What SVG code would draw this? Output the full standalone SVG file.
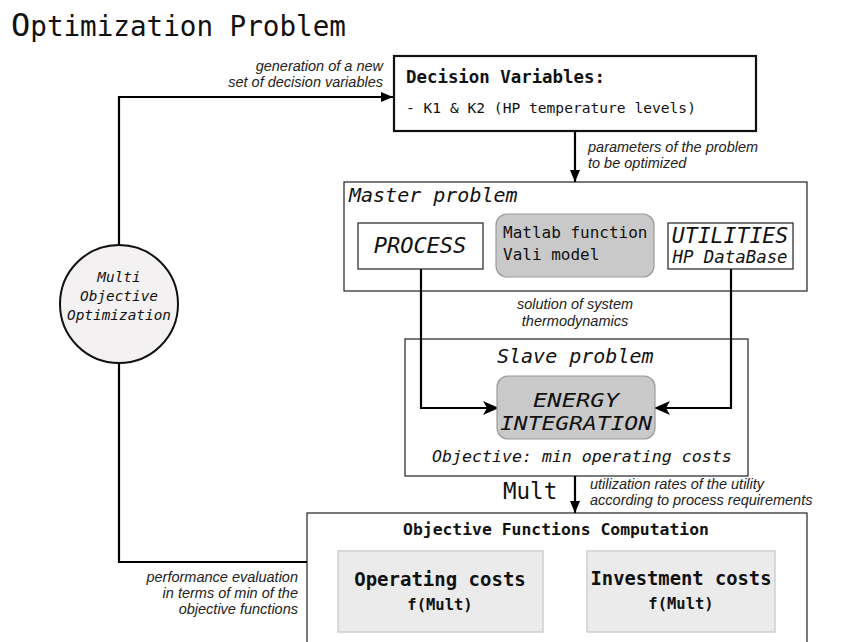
<svg xmlns="http://www.w3.org/2000/svg" width="850" height="642" viewBox="0 0 850 642">
  <style>
    .mono { font-family: "DejaVu Sans Mono", "Liberation Mono", monospace; fill: #111; }
    .it { font-style: italic; }
    .b { font-weight: bold; }
    .note { font-family: "Liberation Sans", Arial, sans-serif; font-style: italic; font-size: 14.5px; fill: #222; }
    .line { fill: none; stroke: #000; stroke-width: 2.2; }
    .frame { fill: #fff; stroke: #222; stroke-width: 1.2; }
    .box { fill: #fff; stroke: #222; stroke-width: 1.2; }
    .gray { fill: #c9c9c9; stroke: #9a9a9a; stroke-width: 1.2; }
    .light { fill: #ebebeb; stroke: #cfcfcf; stroke-width: 1.5; }
  </style>
  <defs>
    <marker id="arrow" viewBox="0 0 12 10" refX="12" refY="5" markerWidth="13" markerHeight="10" markerUnits="userSpaceOnUse" orient="auto">
      <path d="M0,0 L12,5 L0,10 Z" fill="#000"/>
    </marker>
    <marker id="arrowBig" viewBox="0 0 16 14" refX="16" refY="7" markerWidth="18" markerHeight="14" markerUnits="userSpaceOnUse" orient="auto">
      <path d="M0,0 L16,7 L0,14 L4,7 Z" fill="#000"/>
    </marker>
  </defs>

  <rect width="850" height="642" fill="#fff"/>

  <!-- title -->
  <text x="11" y="36" class="mono" font-size="27.6"><tspan font-size="32">O</tspan>ptimization Problem</text>

  <!-- containers -->
  <g id="master">
    <rect class="frame" x="344" y="182" width="463" height="109"/>
    <text x="349" y="202" class="mono it" font-size="20">Master problem</text>
  </g>
  <g id="slave">
    <rect class="frame" x="405" y="339" width="343" height="137"/>
    <text x="497" y="363" class="mono it" font-size="20">Slave problem</text>
    <text x="432" y="462" class="mono it" font-size="16.6">Objective: min operating costs</text>
  </g>
  <g id="objectives">
    <rect class="frame" x="307" y="513" width="500" height="140" stroke-width="1.6"/>
    <text x="556" y="535" class="mono b" font-size="16.4" text-anchor="middle">Objective Functions Computation</text>
  </g>

  <!-- connectors -->
  <g id="connectors">
    <polyline class="line" points="119,245 119,97 393,97" marker-end="url(#arrow)"/>
    <polyline class="line" points="119,364 119,562 307,562"/>
    <line class="line" x1="575" y1="131" x2="575" y2="182" marker-end="url(#arrow)"/>
    <polyline class="line" points="421,269 421,408 499,408" stroke-width="2.8" marker-end="url(#arrowBig)"/>
    <polyline class="line" points="731,269 731,408 654,408" stroke-width="2.8" marker-end="url(#arrowBig)"/>
    <line class="line" x1="575" y1="476" x2="575" y2="513" marker-end="url(#arrow)"/>
  </g>

  <!-- connector labels -->
  <g id="labels">
    <text class="note" x="383" y="71" text-anchor="end">generation of a new</text>
    <text class="note" x="383" y="87" text-anchor="end">set of decision variables</text>
    <text class="note" x="588" y="152">parameters of the problem</text>
    <text class="note" x="588" y="168">to be optimized</text>
    <text class="note" x="575" y="309" text-anchor="middle">solution of system</text>
    <text class="note" x="575" y="326" text-anchor="middle">thermodynamics</text>
    <text x="503" y="499" class="mono" font-size="22.5">Mult</text>
    <text class="note" x="590" y="489">utilization rates of the utility</text>
    <text class="note" x="590" y="505">according to process requirements</text>
    <text class="note" x="298" y="582" text-anchor="end">performance evaluation</text>
    <text class="note" x="298" y="598" text-anchor="end">in terms of min of the</text>
    <text class="note" x="298" y="614" text-anchor="end">objective functions</text>
  </g>

  <g id="decision-variables">
    <rect x="394" y="56" width="362" height="75" fill="#fff" stroke="#111" stroke-width="2.2"/>
    <text x="406" y="83" class="mono b" font-size="17.4">Decision Variables:</text>
    <text x="406" y="113" class="mono" font-size="14.6">- K1 &amp; K2 (HP temperature levels)</text>
  </g>

  <g id="moo">
    <circle cx="119" cy="304" r="59" fill="#f3f1f2" stroke="#111" stroke-width="2"/>
    <text x="119" y="282" class="mono it" font-size="14.4" text-anchor="middle">Multi</text>
    <text x="119" y="301" class="mono it" font-size="14.4" text-anchor="middle">Objective</text>
    <text x="119" y="320" class="mono it" font-size="14.4" text-anchor="middle">Optimization</text>
  </g>

  <g id="process">
    <rect class="box" x="358" y="223" width="125" height="46"/>
    <text x="420" y="253" class="mono it" font-size="22" text-anchor="middle">PROCESS</text>
  </g>

  <g id="matlab">
    <rect class="gray" x="496" y="214" width="158" height="63" rx="11"/>
    <text x="503" y="238" class="mono" font-size="16">Matlab function</text>
    <text x="503" y="260" class="mono" font-size="16">Vali model</text>
  </g>

  <g id="utilities">
    <rect class="box" x="668" y="223" width="125" height="46"/>
    <text x="730" y="243" class="mono it" font-size="21.5" text-anchor="middle">UTILITIES</text>
    <text x="730" y="263" class="mono it" font-size="17.4" text-anchor="middle">HP DataBase</text>
  </g>

  <g id="energy-integration">
    <rect class="gray" x="497" y="376" width="158" height="63" rx="11"/>
    <text x="576" y="407" class="mono it" font-size="19.5" text-anchor="middle" textLength="86" lengthAdjust="spacingAndGlyphs">ENERGY</text>
    <text x="576" y="430" class="mono it" font-size="19.5" text-anchor="middle" textLength="152" lengthAdjust="spacingAndGlyphs">INTEGRATION</text>
  </g>

  <g id="operating-costs">
    <rect class="light" x="338" y="551" width="205" height="81"/>
    <text x="440" y="586" class="mono b" font-size="19" text-anchor="middle">Operating costs</text>
    <text x="440" y="610" class="mono b" font-size="15.5" text-anchor="middle">f(Mult)</text>
  </g>

  <g id="investment-costs">
    <rect class="light" x="587" y="551" width="188" height="81"/>
    <text x="681" y="585" class="mono b" font-size="18.8" text-anchor="middle">Investment costs</text>
    <text x="681" y="609" class="mono b" font-size="15.5" text-anchor="middle">f(Mult)</text>
  </g>
</svg>
